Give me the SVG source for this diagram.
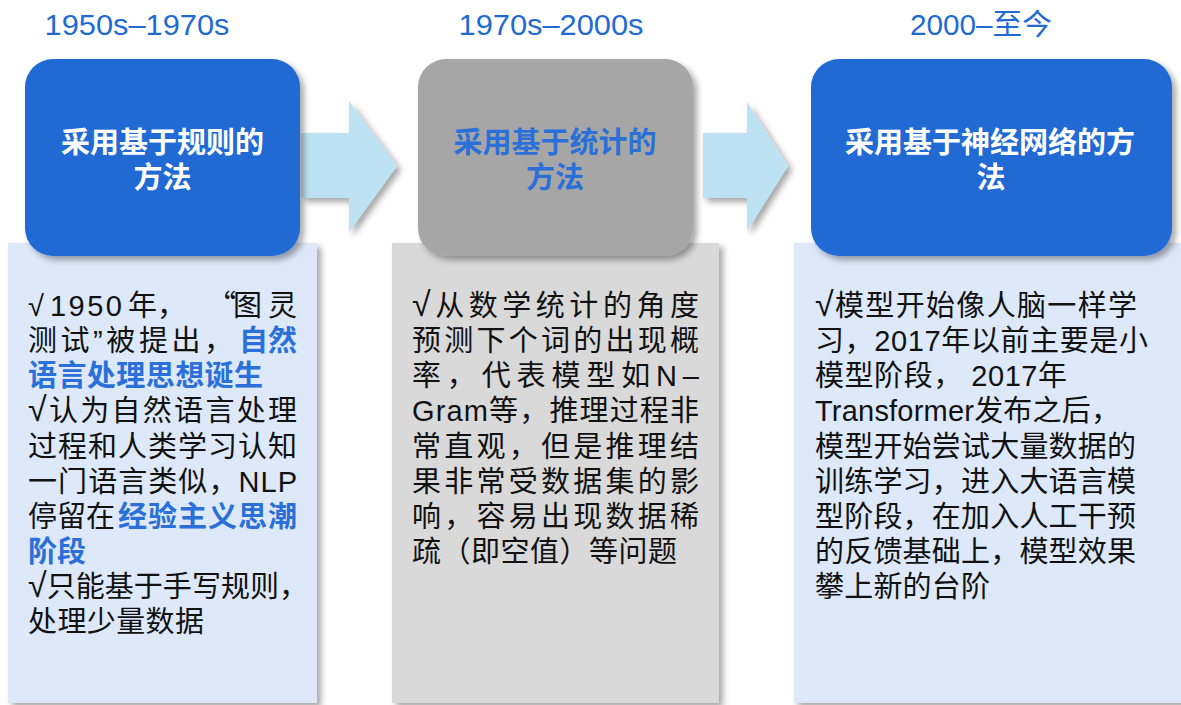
<svg xmlns="http://www.w3.org/2000/svg" width="1181" height="705" viewBox="0 0 1181 705">
<defs>
<filter id="sh" x="-10%" y="-10%" width="130%" height="130%">
<feDropShadow dx="4" dy="4" stdDeviation="3" flood-color="#000" flood-opacity="0.35"/>
</filter>
<style>
text{font-family:"Liberation Sans","Noto Sans CJK SC",sans-serif;}
.ck{font-family:"Noto Sans CJK SC",sans-serif;}
.v{font-size:34px;}
.hd{font-size:29px;fill:#1f6bd3;text-anchor:middle;}
.tt{font-size:29px;font-weight:bold;text-anchor:middle;}
.tw{fill:#ffffff;}
.tb{fill:#2a70d8;}
.bd{font-size:29px;fill:#111111;}
.em{font-size:29px;fill:#2a70d8;font-weight:bold;}
.box{fill:#236ad3;filter:url(#sh);}
.gbox{fill:#a6a6a6;filter:url(#sh);}
.pl{fill:#dde8f9;filter:url(#sh);}
.pg{fill:#d9d9d9;filter:url(#sh);}
.ar{fill:#bde2f4;filter:url(#sh);}
</style>
</defs>

<g id="headers">
<text class="hd" x="137" y="35" textLength="185" lengthAdjust="spacingAndGlyphs">1950s–1970s</text>
<text class="hd" x="551" y="35" textLength="185" lengthAdjust="spacingAndGlyphs">1970s–2000s</text>
<text class="hd" x="981" y="35" textLength="142" lengthAdjust="spacingAndGlyphs">2000–至今</text>
</g>

<g id="panel1">
<rect class="pl" x="8" y="243" width="309" height="460"/>
<text class="bd v" x="28" y="316">√</text>
<text class="bd" x="50" y="316" textLength="72" lengthAdjust="spacing">1950</text>
<text class="bd" x="128" y="316">年，</text>
<text class="bd ck" x="207" y="316">“</text>
<text class="bd" x="233" y="316" textLength="64" lengthAdjust="spacing">图灵</text>
<text class="bd" x="28" y="351" textLength="205" lengthAdjust="spacing">测试”被提出，</text>
<text class="em" x="239" y="351" textLength="58" lengthAdjust="spacing">自然</text>
<text class="em" x="28" y="386" textLength="235" lengthAdjust="spacing">语言处理思想诞生</text>
<text class="bd" x="28" y="421" textLength="269" lengthAdjust="spacing"><tspan class="v">√</tspan>认为自然语言处理</text>
<text class="bd" x="28" y="457" textLength="269" lengthAdjust="spacing">过程和人类学习认知</text>
<text class="bd" x="28" y="492" textLength="269" lengthAdjust="spacing">一门语言类似，NLP</text>
<text class="bd" x="28" y="527" textLength="87" lengthAdjust="spacing">停留在</text>
<text class="em" x="118" y="527" textLength="179" lengthAdjust="spacing">经验主义思潮</text>
<text class="em" x="28" y="562">阶段</text>
<text class="bd" x="28" y="597" textLength="280" lengthAdjust="spacing"><tspan class="v">√</tspan>只能基于手写规则，</text>
<text class="bd" x="28" y="632" textLength="176" lengthAdjust="spacing">处理少量数据</text>
</g>

<g id="panel2">
<rect class="pg" x="392" y="243" width="327" height="460"/>
<text class="bd" x="412" y="316" textLength="287" lengthAdjust="spacing"><tspan class="v">√</tspan>从数学统计的角度</text>
<text class="bd" x="412" y="351" textLength="287" lengthAdjust="spacing">预测下个词的出现概</text>
<text class="bd" x="412" y="386" textLength="287" lengthAdjust="spacing">率，代表模型如N–</text>
<text class="bd" x="412" y="421" textLength="287" lengthAdjust="spacing">Gram等，推理过程非</text>
<text class="bd" x="412" y="457" textLength="287" lengthAdjust="spacing">常直观，但是推理结</text>
<text class="bd" x="412" y="492" textLength="287" lengthAdjust="spacing">果非常受数据集的影</text>
<text class="bd" x="412" y="527" textLength="287" lengthAdjust="spacing">响，容易出现数据稀</text>
<text class="bd" x="412" y="562" textLength="265" lengthAdjust="spacing">疏（即空值）等问题</text>
</g>

<g id="panel3">
<rect class="pl" x="794" y="243" width="400" height="460"/>
<text class="bd" x="815" y="316" textLength="322" lengthAdjust="spacing"><tspan class="v">√</tspan>模型开始像人脑一样学</text>
<text class="bd" x="815" y="351" textLength="333" lengthAdjust="spacing">习，2017年以前主要是小</text>
<text class="bd" x="815" y="386" textLength="252" lengthAdjust="spacing">模型阶段， 2017年</text>
<text class="bd" x="815" y="421" textLength="305" lengthAdjust="spacing">Transformer发布之后，</text>
<text class="bd" x="815" y="457" textLength="321" lengthAdjust="spacing">模型开始尝试大量数据的</text>
<text class="bd" x="815" y="492" textLength="321" lengthAdjust="spacing">训练学习，进入大语言模</text>
<text class="bd" x="815" y="527" textLength="321" lengthAdjust="spacing">型阶段，在加入人工干预</text>
<text class="bd" x="815" y="562" textLength="321" lengthAdjust="spacing">的反馈基础上，模型效果</text>
<text class="bd" x="815" y="597" textLength="175" lengthAdjust="spacing">攀上新的台阶</text>
</g>

<g id="connectors">
<polygon class="ar" points="301,133 349,133 349,101 397,166 349,232 349,198 301,198"/>
<polygon class="ar" points="703,133 747,133 747,102 788,166 747,231 747,198 703,198"/>
</g>

<g id="box1">
<rect class="box" x="25" y="59" width="275" height="197" rx="28" ry="28"/>
<text class="tt tw" x="162.5" y="153">采用基于规则的</text>
<text class="tt tw" x="162.5" y="188">方法</text>
</g>

<g id="box2">
<rect class="gbox" x="418" y="59" width="275" height="197" rx="28" ry="28"/>
<text class="tt tb" x="555" y="153">采用基于统计的</text>
<text class="tt tb" x="555" y="188">方法</text>
</g>

<g id="box3">
<rect class="box" x="811" y="59" width="361" height="197" rx="28" ry="28"/>
<text class="tt tw" x="990" y="153">采用基于神经网络的方</text>
<text class="tt tw" x="991" y="188">法</text>
</g>
</svg>
